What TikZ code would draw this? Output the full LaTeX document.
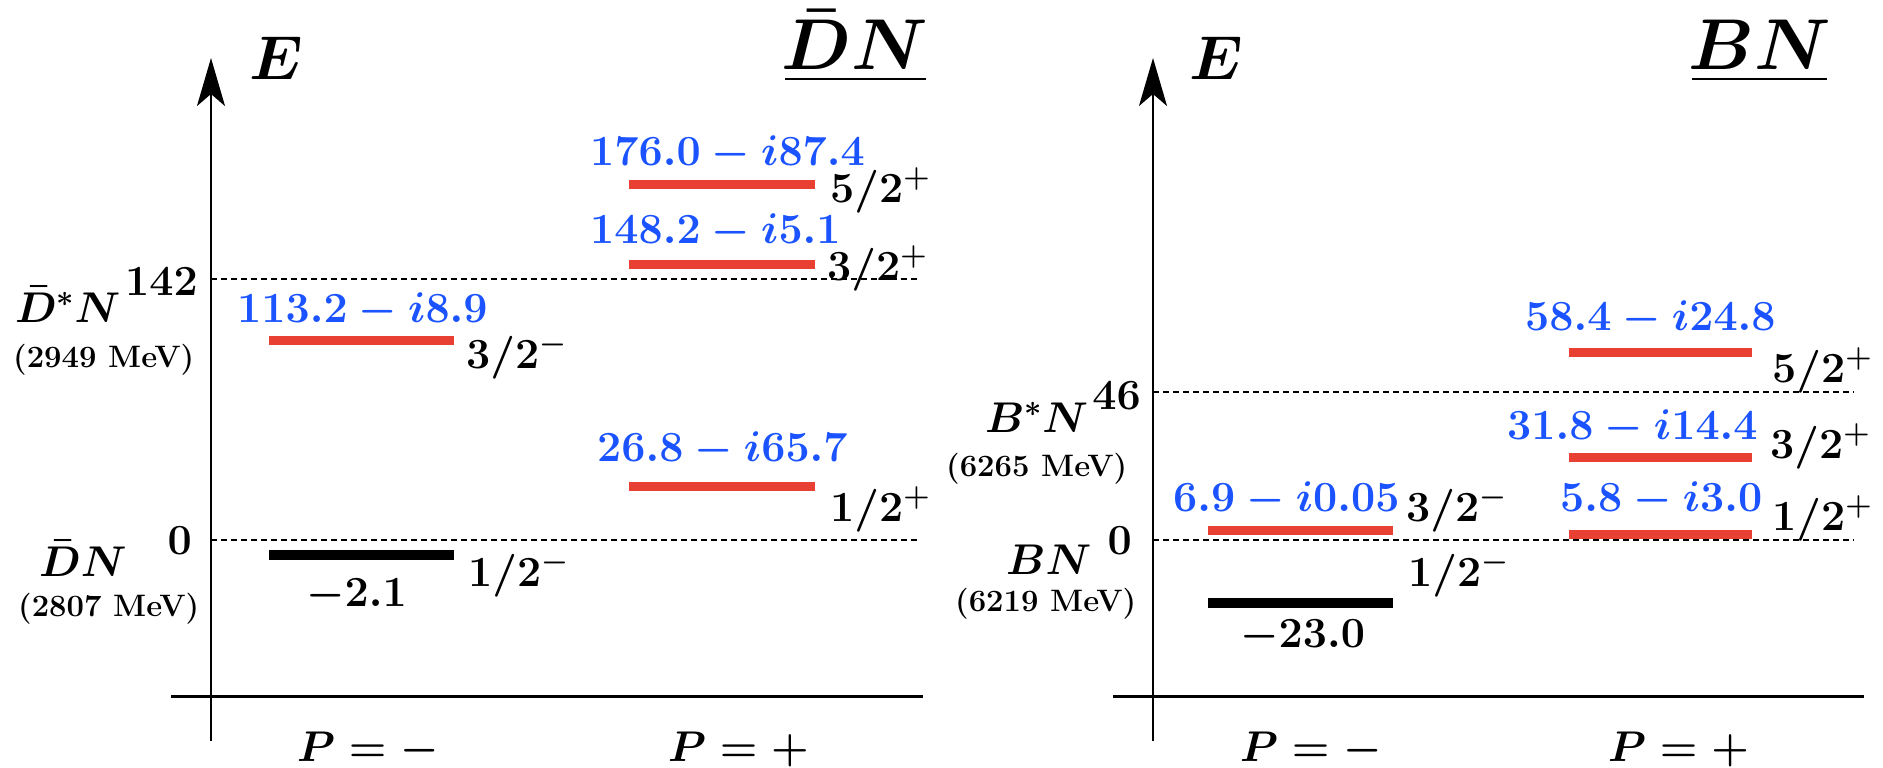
\RequirePackage{fix-cm}
\documentclass[tikz,border=0pt]{standalone}
\usetikzlibrary{arrows.meta}
\definecolor{lvlred}{RGB}{232,64,51}
\definecolor{lvlblue}{RGB}{26,83,255}
\begin{document}
\begin{tikzpicture}[x=1pt,y=-1pt,
  lab/.style={inner sep=0pt, font=\fontsize{43}{50}\selectfont\boldmath},
  val/.style={lab, text=lvlblue},
  small/.style={inner sep=0pt, font=\fontsize{31}{36}\selectfont\bfseries},
  axlab/.style={inner sep=0pt, font=\fontsize{62}{70}\selectfont\boldmath},
  title/.style={inner sep=0pt, font=\fontsize{72}{80}\selectfont\boldmath},
  axisline/.style={line width=2pt, -{Stealth[length=48pt,width=28pt,inset=12pt]}},
  baseline/.style={line width=3pt},
  thresh/.style={line width=1.6pt, dash pattern=on 6pt off 4pt},
  redbar/.style={line width=9pt, lvlred},
  blackbar/.style={line width=10pt, black},
  uline/.style={line width=2.5pt}]
\useasboundingbox (0,0) rectangle (1883,768);

% ---------------- Left panel: DbarN ----------------
\coordinate (LaxB) at (211,741);
\coordinate (LaxT) at (211,58);
\draw[axisline] (LaxB) -- (LaxT);
\coordinate (LbotA) at (171,696);
\coordinate (LbotB) at (923,696);
\draw[baseline] (LbotA) -- (LbotB);
\coordinate (Lt1A) at (211,279);
\coordinate (Lt1B) at (917,279);
\draw[thresh] (Lt1A) -- (Lt1B);
\coordinate (Lt0A) at (211,540);
\coordinate (Lt0B) at (917,540);
\draw[thresh] (Lt0A) -- (Lt0B);

\node[axlab, anchor=base] (LE) at (276,80) {$E$};
\node[title, anchor=base] (LT) at (855,70) {$\bar{D}N$};
\coordinate (LuA) at (785,79);
\coordinate (LuB) at (926,79);
\draw[uline] (LuA) -- (LuB);

\node[lab, anchor=base east] (L142) at (198,295) {$142$};
\node[lab, anchor=base west] (LDsN) at (15,322) {$\bar{D}^{*}N$};
\node[small, anchor=base west] (LDsM) at (13,367) {(2949 MeV)};
\node[lab, anchor=base east] (L0) at (192,554) {$0$};
\node[lab, anchor=base west] (LDN) at (39,576) {$\bar{D}N$};
\node[small, anchor=base west] (LDNM) at (18,616) {(2807 MeV)};

% bars
\coordinate (La1) at (269,340); \coordinate (La2) at (454,340);
\draw[redbar] (La1) -- (La2);
\coordinate (Lb1) at (269,555); \coordinate (Lb2) at (454,555);
\draw[blackbar] (Lb1) -- (Lb2);
\coordinate (Lc1) at (629,184); \coordinate (Lc2) at (815,184);
\draw[redbar] (Lc1) -- (Lc2);
\coordinate (Ld1) at (629,264); \coordinate (Ld2) at (815,264);
\draw[redbar] (Ld1) -- (Ld2);
\coordinate (Le1) at (629,486); \coordinate (Le2) at (815,486);
\draw[redbar] (Le1) -- (Le2);

\node[val, anchor=base west] (Lv1) at (237,322) {$113.2-i8.9$};
\node[lab, anchor=base west] (Lv2) at (306,606) {$-2.1$};
\node[val, anchor=base west] (Lv3) at (590,165) {$176.0-i87.4$};
\node[val, anchor=base west] (Lv4) at (590,243) {$148.2-i5.1$};
\node[val, anchor=base west] (Lv5) at (597,461) {$26.8-i65.7$};

\node[lab, anchor=base west] (Ls1) at (466,368) {$3/2^{-}$};
\node[lab, anchor=base west] (Ls2) at (468,586) {$1/2^{-}$};
\node[lab, anchor=base west] (Ls3) at (830,202) {$5/2^{+}$};
\node[lab, anchor=base west] (Ls4) at (827,280) {$3/2^{+}$};
\node[lab, anchor=base west] (Ls5) at (830,521) {$1/2^{+}$};

\node[lab, anchor=base west] (LPm) at (297,761) {$P=-$};
\node[lab, anchor=base west] (LPp) at (668,761) {$P=+$};

% ---------------- Right panel: BN ----------------
\coordinate (RaxB) at (1153,741);
\coordinate (RaxT) at (1153,58);
\draw[axisline] (RaxB) -- (RaxT);
\coordinate (RbotA) at (1113,696);
\coordinate (RbotB) at (1864,696);
\draw[baseline] (RbotA) -- (RbotB);
\coordinate (Rt1A) at (1153,392);
\coordinate (Rt1B) at (1854,392);
\draw[thresh] (Rt1A) -- (Rt1B);
\coordinate (Rt0A) at (1153,540);
\coordinate (Rt0B) at (1854,540);
\draw[thresh] (Rt0A) -- (Rt0B);

\node[axlab, anchor=base] (RE) at (1216,80) {$E$};
\node[title, anchor=base] (RT) at (1760,70) {$BN$};
\coordinate (RuA) at (1692,79);
\coordinate (RuB) at (1827,79);
\draw[uline] (RuA) -- (RuB);

\node[lab, anchor=base east] (R46) at (1141,409) {$46$};
\node[lab, anchor=base west] (RBsN) at (985,432) {$B^{*}N$};
\node[small, anchor=base west] (RBsM) at (946,476) {(6265 MeV)};
\node[lab, anchor=base east] (R0) at (1132,554) {$0$};
\node[lab, anchor=base west] (RBN) at (1006,574) {$BN$};
\node[small, anchor=base west] (RBNM) at (955,611) {(6219 MeV)};

\coordinate (Ra1) at (1208,530); \coordinate (Ra2) at (1393,530);
\draw[redbar] (Ra1) -- (Ra2);
\coordinate (Rb1) at (1208,603); \coordinate (Rb2) at (1393,603);
\draw[blackbar] (Rb1) -- (Rb2);
\coordinate (Rc1) at (1569,352); \coordinate (Rc2) at (1752,352);
\draw[redbar] (Rc1) -- (Rc2);
\coordinate (Rd1) at (1569,457); \coordinate (Rd2) at (1752,457);
\draw[redbar] (Rd1) -- (Rd2);
\coordinate (Re1) at (1569,534); \coordinate (Re2) at (1752,534);
\draw[redbar] (Re1) -- (Re2);

\node[val, anchor=base west] (Rv1) at (1173,511) {$6.9-i0.05$};
\node[lab, anchor=base west] (Rv2) at (1240,647) {$-23.0$};
\node[val, anchor=base west] (Rv3) at (1525,330) {$58.4-i24.8$};
\node[val, anchor=base west] (Rv4) at (1507,439) {$31.8-i14.4$};
\node[val, anchor=base west] (Rv5) at (1560,511) {$5.8-i3.0$};

\node[lab, anchor=base west] (Rs1) at (1406,521) {$3/2^{-}$};
\node[lab, anchor=base west] (Rs2) at (1408,586) {$1/2^{-}$};
\node[lab, anchor=base west] (Rs3) at (1772,382) {$5/2^{+}$};
\node[lab, anchor=base west] (Rs4) at (1770,458) {$3/2^{+}$};
\node[lab, anchor=base west] (Rs5) at (1772,530) {$1/2^{+}$};

\node[lab, anchor=base west] (RPm) at (1240,761) {$P=-$};
\node[lab, anchor=base west] (RPp) at (1608,761) {$P=+$};
\end{tikzpicture}
\end{document}
